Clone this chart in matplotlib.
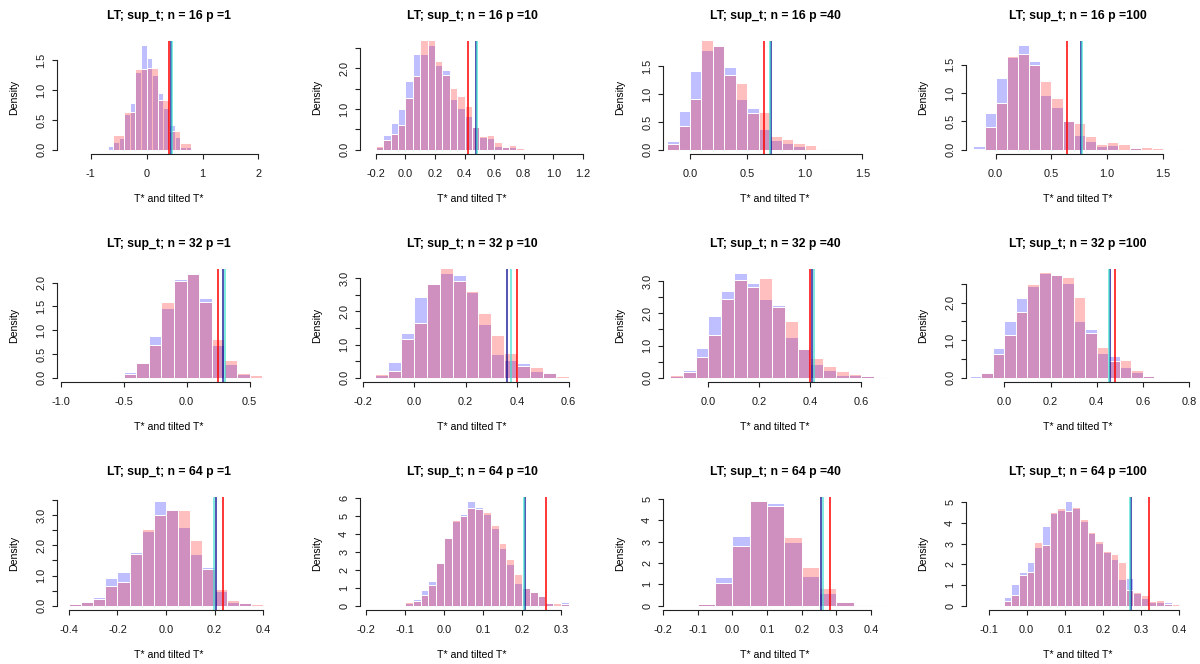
import matplotlib
matplotlib.use("Agg")
import matplotlib.pyplot as plt
import numpy as np

plt.rcParams['font.family'] = ['Liberation Sans', 'DejaVu Sans']

FIG_W, FIG_H = 1200, 664

n_values = [16, 32, 64]
p_values = [1, 10, 40, 100]

# ---- histogram of T* (blue) and tilted T* (red): first break, bin width, densities ----
t_break0 = [-0.8, -0.2, -0.2, -0.2,
            -0.6, -0.15, -0.15, -0.15,
            -0.4, -0.12, -0.1, -0.06]
t_binw = [0.1, 0.05, 0.1, 0.1,
          0.1, 0.05, 0.05, 0.05,
          0.05, 0.02, 0.05, 0.02]
tilted_break0 = [-0.6, -0.2, -0.2, -0.2,
                 -0.6, -0.15, -0.15, -0.15,
                 -0.4, -0.12, -0.1, -0.06]
tilted_binw = [0.2, 0.05, 0.1, 0.1,
               0.1, 0.05, 0.05, 0.05,
               0.05, 0.02, 0.05, 0.02]

t_16_1 = [0.01, 0.07, 0.13, 0.19, 0.60, 0.79, 1.30, 1.76, 1.53, 1.25, 0.95, 0.70, 0.42, 0.22, 0.05, 0.05]
tilted_16_1 = [0.24, 0.63, 1.36, 1.37, 0.84, 0.32, 0.11]

t_16_10 = [0.06, 0.37, 0.67, 1.01, 1.69, 2.36, 2.35, 2.58, 2.08, 1.95, 1.25, 1.03, 0.82, 0.55,
           0.31, 0.28, 0.10, 0.07, 0.06, 0.02]
tilted_16_10 = [0.10, 0.23, 0.39, 0.61, 1.28, 1.81, 2.95, 2.95, 2.17, 1.83, 1.52, 1.32, 1.07, 0.55,
                0.35, 0.37, 0.18, 0.08, 0.13, 0.04, 0.02]

t_16_40 = [0.15, 0.69, 1.42, 1.79, 1.89, 1.49, 0.91, 0.76, 0.37, 0.18, 0.13, 0.06, 0.01]
tilted_16_40 = [0.10, 0.43, 0.92, 2.10, 1.86, 1.34, 1.20, 0.66, 0.68, 0.24, 0.19, 0.13, 0.08, 0.01,
                0.02, 0.005]

t_16_100 = [0.07, 0.64, 1.26, 1.64, 1.85, 1.56, 0.96, 0.75, 0.51, 0.26, 0.15, 0.06, 0.08, 0.01, 0.03]
tilted_16_100 = [0.02, 0.41, 0.82, 1.65, 1.68, 1.49, 1.21, 0.91, 0.51, 0.47, 0.24, 0.10, 0.13, 0.10,
                 0.04, 0.05, 0.035, 0.0, 0.01]

t_32_1 = [0.02, 0.13, 0.31, 0.88, 1.46, 2.08, 2.21, 1.68, 0.69, 0.28, 0.07]
tilted_32_1 = [0.0, 0.07, 0.32, 0.69, 1.60, 2.03, 2.18, 1.59, 0.81, 0.38, 0.11, 0.06]

t_32_10 = [0.08, 0.47, 1.34, 2.44, 2.87, 3.17, 3.10, 2.60, 1.63, 0.73, 0.55, 0.44, 0.20, 0.13]
tilted_32_10 = [0.12, 0.22, 1.16, 1.64, 2.82, 3.30, 2.91, 2.62, 1.94, 1.28, 0.75, 0.36, 0.32, 0.13, 0.05]

t_32_40 = [0.06, 0.24, 0.92, 1.91, 2.70, 3.26, 2.94, 2.44, 2.26, 1.26, 0.93, 0.44, 0.23, 0.09, 0.09, 0.10]
tilted_32_40 = [0.10, 0.18, 0.66, 1.33, 2.44, 3.02, 2.81, 3.10, 2.21, 1.75, 0.89, 0.61, 0.36, 0.21,
                0.12, 0.06, 0.03]

t_32_100 = [0.04, 0.14, 0.79, 1.50, 2.12, 2.44, 2.80, 2.75, 2.53, 1.52, 1.31, 0.66, 0.57, 0.29,
            0.15, 0.04, 0.0, 0.03]
tilted_32_100 = [0.0, 0.14, 0.63, 1.13, 1.75, 2.51, 2.83, 2.73, 2.68, 2.14, 1.20, 0.81, 0.45, 0.47,
                 0.22, 0.04]

t_64_1 = [0.06, 0.13, 0.30, 0.93, 1.10, 1.77, 2.48, 3.47, 3.17, 2.61, 1.72, 1.28, 0.50, 0.13, 0.09, 0.02]
tilted_64_1 = [0.06, 0.13, 0.21, 0.67, 0.79, 1.70, 2.54, 3.00, 3.17, 3.17, 2.17, 1.21, 0.57, 0.18,
               0.09, 0.07, 0.02]

t_64_10 = [0.0, 0.15, 0.38, 0.90, 1.41, 2.37, 3.78, 4.74, 5.13, 5.86, 5.49, 5.13, 4.32, 3.20, 2.35,
           1.26, 1.02, 0.75, 0.53, 0.20, 0.07, 0.22]
tilted_64_10 = [0.06, 0.20, 0.24, 0.58, 1.18, 2.37, 3.78, 4.76, 4.98, 5.45, 5.39, 5.21, 4.51, 3.52,
                2.61, 1.79, 1.02, 0.75, 0.53, 0.13, 0.13, 0.11]

t_64_40 = [0.10, 1.37, 3.28, 4.92, 4.81, 3.00, 1.39, 0.60, 0.19, 0.05]
tilted_64_40 = [0.10, 1.06, 2.82, 4.92, 4.65, 3.20, 1.80, 0.84, 0.19, 0.05, 0.03]

t_64_100 = [0.42, 1.03, 1.61, 2.12, 2.82, 3.88, 4.48, 4.61, 5.08, 4.74, 4.09, 3.52, 3.03, 2.58, 2.25,
            1.30, 1.32, 0.64, 0.37, 0.20, 0.20, 0.16]
tilted_64_100 = [0.21, 0.52, 1.47, 1.61, 3.08, 2.93, 4.54, 4.72, 4.56, 4.77, 4.20, 3.58, 3.11, 2.63,
                 2.52, 2.13, 0.77, 0.68, 0.50, 0.21, 0.28, 0.11, 0.08]

t_dens = [t_16_1, t_16_10, t_16_40, t_16_100,
          t_32_1, t_32_10, t_32_40, t_32_100,
          t_64_1, t_64_10, t_64_40, t_64_100]
tilted_dens = [tilted_16_1, tilted_16_10, tilted_16_40, tilted_16_100,
               tilted_32_1, tilted_32_10, tilted_32_40, tilted_32_100,
               tilted_64_1, tilted_64_10, tilted_64_40, tilted_64_100]

# ---- reference lines ----
line_red = [0.405, 0.421, 0.644, 0.642, 0.251, 0.401, 0.399, 0.479, 0.234, 0.261, 0.281, 0.322]
line_navy = [0.430, 0.480, 0.708, 0.765, 0.291, 0.360, 0.407, 0.459, 0.208, 0.2085, 0.2546, 0.2736]
line_turq = [0.460, 0.484, 0.693, 0.774, 0.302, 0.375, 0.414, 0.455, 0.198, 0.205, 0.260, 0.271]

# ---- axes ----
x_lims = [(-1.611, 2.418), (-0.3084, 1.2122), (-0.2376, 1.7206), (-0.2686, 1.7482),
          (-1.0315, 0.7542), (-0.2109, 0.6629), (-0.1789, 0.7034), (-0.1674, 0.8074),
          (-0.4507, 0.4771), (-0.2162, 0.3608), (-0.2007, 0.4478), (-0.1599, 0.4302)]
x_ticks = [[-1, 0, 1, 2],
           [-0.2, 0, 0.2, 0.4, 0.6, 0.8, 1.0, 1.2],
           [0, 0.5, 1.0, 1.5],
           [0, 0.5, 1.0, 1.5],
           [-1.0, -0.5, 0, 0.5],
           [-0.2, 0, 0.2, 0.4, 0.6],
           [0, 0.2, 0.4, 0.6],
           [0, 0.2, 0.4, 0.6, 0.8],
           [-0.4, -0.2, 0, 0.2, 0.4],
           [-0.2, -0.1, 0, 0.1, 0.2, 0.3],
           [-0.2, -0.1, 0, 0.1, 0.2, 0.3, 0.4],
           [-0.1, 0, 0.1, 0.2, 0.3, 0.4]]
x_dec = [0, 1, 1, 1, 1, 1, 1, 1, 1, 1, 1, 1]
y_top = [1.5, 2.5, 1.5, 1.5, 2.0, 3.0, 3.0, 2.5, 3.5, 6, 5, 5]
y_step = [0.5] * 9 + [1, 1, 1]
y_every = [1, 2, 1, 1, 1, 2, 2, 2, 2, 1, 1, 1]
y_dec = [1] * 9 + [0, 0, 0]

blue_fill = (0.0, 0.0, 1.0, 0.25)
red_fill = (1.0, 0.0, 0.0, 0.25)

# panel geometry in pixels
col_left = [56.7, 359.7, 662.7, 965.7]
row_bottom = [154.0, 382.0, 610.0]
PW, PH = 225.0, 113.5

fig = plt.figure(figsize=(FIG_W / 100, FIG_H / 100), dpi=100)
fig.patch.set_facecolor('white')


def fx(px):
    return px / FIG_W


def fy(py):
    return 1 - py / FIG_H


def fmt(v, d):
    s = f"{v:.{d}f}"
    if s.startswith("-0") and float(s) == 0:
        s = s[1:]
    return s


for i in range(12):
    r, c = divmod(i, 4)
    L = col_left[c]
    B = row_bottom[r]
    ax = fig.add_axes([fx(L), fy(B), PW / FIG_W, PH / FIG_H])
    ax.set_facecolor('none')

    td = np.array(t_dens[i])
    te = t_break0[i] + t_binw[i] * np.arange(len(td))
    ax.bar(te, td, width=t_binw[i], align='edge', color=blue_fill,
           edgecolor='white', linewidth=0.7)
    rd = np.array(tilted_dens[i])
    re_ = tilted_break0[i] + tilted_binw[i] * np.arange(len(rd))
    ax.bar(re_, rd, width=tilted_binw[i], align='edge', color=red_fill,
           edgecolor='white', linewidth=0.7)

    ax.axvline(line_red[i], color='#ff0000', lw=1.1)
    ax.axvline(line_navy[i], color='#00008b', lw=1.1, alpha=0.85)
    ax.axvline(line_turq[i], color='#40e0d0', lw=1.1, alpha=0.85)

    M = td.max()
    ax.set_ylim(-0.04 * M, 1.04 * M)
    ax.set_xlim(*x_lims[i])

    for s in ['top', 'right']:
        ax.spines[s].set_visible(False)
    for s in ['left', 'bottom']:
        ax.spines[s].set_linewidth(0.8)
        ax.spines[s].set_color('#222222')
    xt = x_ticks[i]
    ax.spines['bottom'].set_bounds(xt[0], xt[-1])
    ax.set_xticks(xt)
    ax.set_xticklabels([fmt(v, x_dec[i]) for v in xt])
    yt = np.arange(0, y_top[i] + 1e-9, y_step[i])
    ax.spines['left'].set_bounds(0, y_top[i])
    ax.set_yticks(yt)
    ax.set_yticklabels([fmt(v, y_dec[i]) if k % y_every[i] == 0 else ''
                        for k, v in enumerate(yt)])
    ax.tick_params(axis='both', direction='out', length=3.6, width=0.8,
                   color='#222222', labelsize=7.9, labelcolor='#1a1a1a')
    ax.tick_params(axis='x', pad=7.0)
    ax.tick_params(axis='y', pad=4.0, labelrotation=90)
    for lab in ax.get_yticklabels():
        lab.set_verticalalignment('center')

    cx = L + PW / 2
    top = B - PH
    fig.text(fx(cx), fy(top - 25), f"LT; sup_t; n = {n_values[r]} p ={p_values[c]}",
             ha='center', va='center', fontsize=8.8, fontweight='bold')
    fig.text(fx(cx), fy(B + 45), "T* and tilted T*", ha='center', va='center', fontsize=7.6)
    fig.text(fx(L - 43), fy(B - PH / 2), "Density", ha='center', va='center',
             rotation=90, fontsize=7.6)

fig.savefig("out.png", dpi=100, facecolor='white')
